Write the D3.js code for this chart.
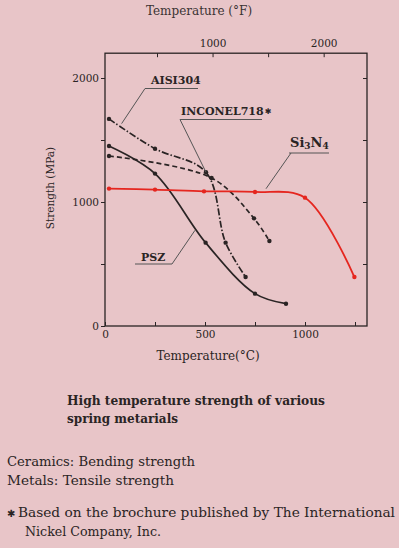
<!DOCTYPE html>
<html>
<head>
<meta charset="utf-8">
<script src="https://cdn.jsdelivr.net/npm/d3@7"></script>
<style>
  body { margin: 0; background: #e8c5c8; }
  svg { display: block; font-family: "DejaVu Serif", "Liberation Serif", serif; }
</style>
</head>
<body>
<script>
// temperature (°C) / strength (MPa)
const aisiTemp = [20, 250, 505, 603, 703];
const aisiStr = [1670, 1430, 1240, 672, 395];
const inconelTemp = [20, 533, 745, 822];
const inconelStr = [1371, 1194, 868, 685];
const pszTemp = [20, 250, 503, 750, 905];
const pszStr = [1452, 1229, 672, 261, 180];
const sinTemp = [20, 250, 495, 750, 1000, 1247];
const sinStr = [1108, 1100, 1086, 1081, 1035, 395];

const yTicks = [0, 500, 1000, 1500, 2000];
const yLabels = [0, 1000, 2000];
const xTicks = [0, 250, 500, 750, 1000, 1250];
const xLabels = [0, 500, 1000];
const fTicks = [500, 1000, 1500, 2000];
const fLabels = [1000, 2000];

const w = 399, h = 548;
const ink = "#2a2424";
const red = "#e5261f";

const svg = d3.select("body").append("svg")
  .attr("width", w)
  .attr("height", h);

const x = d3.scaleLinear().domain([0, 1310]).range([105, 367]);
const xF = d3.scaleLinear().domain([32, 1310 * 1.8 + 32]).range([105, 367]);
const y = d3.scaleLinear().domain([0, 2200]).range([326, 53.2]);

// frame
svg.append("rect")
  .attr("x", x(0)).attr("y", y(2200))
  .attr("width", x(1310) - x(0)).attr("height", y(0) - y(2200))
  .attr("fill", "none").attr("stroke", ink).attr("stroke-width", 1.3);

function styleAxis(g) {
  g.select(".domain").remove();
  g.selectAll(".tick line").attr("stroke", ink).attr("stroke-width", 1);
  g.selectAll(".tick text").attr("fill", ink)
    .style("font-family", "DejaVu Serif, serif").style("font-size", "10.5px");
}

svg.append("g")
  .attr("transform", `translate(0,${y(0)})`)
  .call(d3.axisBottom(x).tickValues(xTicks).tickSizeInner(-4).tickSizeOuter(0).tickPadding(5)
    .tickFormat(d => xLabels.includes(d) ? d : ""))
  .call(styleAxis);

svg.append("g")
  .attr("transform", `translate(${x(0)},0)`)
  .call(d3.axisLeft(y).tickValues(yTicks).tickSize(4).tickPadding(2)
    .tickFormat(d => yLabels.includes(d) ? d : ""))
  .call(styleAxis);

svg.append("g")
  .attr("transform", `translate(0,${y(2200)})`)
  .call(d3.axisTop(xF).tickValues(fTicks).tickSizeInner(-4).tickSizeOuter(0).tickPadding(6)
    .tickFormat(d => fLabels.includes(d) ? d : ""))
  .call(styleAxis);

svg.append("g")
  .attr("transform", `translate(${x(1310)},0)`)
  .call(d3.axisRight(y).tickValues(fTicks).tickSizeInner(-4).tickSizeOuter(0)
    .tickFormat(""))
  .call(styleAxis);

// axis titles
svg.append("text").attr("x", 199).attr("y", 15).attr("text-anchor", "middle")
  .attr("fill", "#3a3333").style("font-size", "12px").text("Temperature (°F)");
svg.append("text").attr("x", 208).attr("y", 360).attr("text-anchor", "middle")
  .attr("fill", ink).style("font-size", "12px").text("Temperature(°C)");
svg.append("text")
  .attr("transform", "translate(54,188) rotate(-90)")
  .attr("text-anchor", "middle").attr("fill", ink).style("font-size", "10.5px")
  .text("Strength (MPa)");

// series
const series = [
  { name: "AISI304", t: aisiTemp, s: aisiStr, color: ink, dash: "7,2,1.5,2" },
  { name: "INCONEL718", t: inconelTemp, s: inconelStr, color: ink, dash: "5,3" },
  { name: "PSZ", t: pszTemp, s: pszStr, color: ink, dash: null },
  { name: "Si3N4", t: sinTemp, s: sinStr, color: red, dash: null }
];

const line = d3.line()
  .x(d => x(d[0]))
  .y(d => y(d[1]))
  .curve(d3.curveCatmullRom.alpha(0.5));

series.forEach(sr => {
  const pts = sr.t.map((t, i) => [t, sr.s[i]]);
  svg.append("path")
    .datum(pts)
    .attr("d", line)
    .attr("fill", "none")
    .attr("stroke", sr.color)
    .attr("stroke-width", sr.color === red ? 1.8 : 1.7)
    .attr("stroke-dasharray", sr.dash);
  svg.selectAll(null)
    .data(pts)
    .enter()
    .append("circle")
    .attr("cx", d => x(d[0]))
    .attr("cy", d => y(d[1]))
    .attr("r", 2.2)
    .attr("fill", sr.color);
});

// labels with leader lines (tip given in data units)
const notes = [
  { text: "AISI304", tx: 151, ty: 84, u0: 145, u1: 198, uy: 88.5, from: 145, tip: [83, 1632] },
  { text: "INCONEL718", tx: 181, ty: 115, u0: 180, u1: 262, uy: 119.5, from: 180, tip: [505, 1240], star: true },
  { text: "PSZ", tx: 141, ty: 261, u0: 135, u1: 172, uy: 264, from: 172, tip: [450, 772] }
];

notes.forEach(n => {
  const t = svg.append("text").attr("x", n.tx).attr("y", n.ty)
    .attr("fill", ink).style("font-size", "11px").style("font-weight", 600).text(n.text);
  if (n.star) {
    t.append("tspan").style("font-family", "DejaVu Sans").style("font-size", "8px")
      .attr("dx", 1).attr("dy", -1).text("\u2731");
  }
  svg.append("line").attr("x1", n.u0).attr("x2", n.u1).attr("y1", n.uy).attr("y2", n.uy)
    .attr("stroke", "#555").attr("stroke-width", 1);
  svg.append("line").attr("x1", n.from).attr("y1", n.uy)
    .attr("x2", x(n.tip[0])).attr("y2", y(n.tip[1]))
    .attr("stroke", "#555").attr("stroke-width", 1);
});

// Si3N4 label
const sl = svg.append("text").attr("x", 290).attr("y", 147)
  .attr("fill", ink).style("font-size", "13px").style("font-weight", "bold");
sl.append("tspan").text("Si");
sl.append("tspan").attr("dy", 2).style("font-size", "9px").text("3");
sl.append("tspan").attr("dy", -2).text("N");
sl.append("tspan").attr("dy", 2).style("font-size", "9px").text("4");
svg.append("line").attr("x1", 289).attr("x2", 329).attr("y1", 153).attr("y2", 153)
  .attr("stroke", "#555").attr("stroke-width", 1);
svg.append("line").attr("x1", 291).attr("y1", 153)
  .attr("x2", x(805)).attr("y2", y(1107))
  .attr("stroke", "#555").attr("stroke-width", 1);

// captions
svg.append("text").attr("x", 67).attr("y", 405).attr("fill", ink)
  .style("font-size", "12px").style("font-weight", "bold")
  .attr("textLength", 258).attr("lengthAdjust", "spacingAndGlyphs")
  .text("High temperature strength of various");
svg.append("text").attr("x", 67).attr("y", 423).attr("fill", ink)
  .style("font-size", "12px").style("font-weight", "bold")
  .text("spring metarials");

svg.append("text").attr("x", 7).attr("y", 466).attr("fill", ink)
  .style("font-size", "13px").attr("textLength", 188).attr("lengthAdjust", "spacingAndGlyphs")
  .text("Ceramics: Bending strength");
svg.append("text").attr("x", 7).attr("y", 485).attr("fill", ink)
  .style("font-size", "13px").attr("textLength", 167).attr("lengthAdjust", "spacingAndGlyphs")
  .text("Metals: Tensile strength");

svg.append("text").attr("x", 7).attr("y", 517).attr("fill", ink)
  .style("font-family", "DejaVu Sans").style("font-size", "10px").text("\u2731");
svg.append("text").attr("x", 18).attr("y", 517).attr("fill", ink)
  .style("font-size", "13px").attr("textLength", 377).attr("lengthAdjust", "spacingAndGlyphs")
  .text("Based on the brochure published by The International");
svg.append("text").attr("x", 25).attr("y", 536).attr("fill", ink)
  .style("font-size", "13px").attr("textLength", 136).attr("lengthAdjust", "spacingAndGlyphs")
  .text("Nickel Company, Inc.");
</script>
</body>
</html>
